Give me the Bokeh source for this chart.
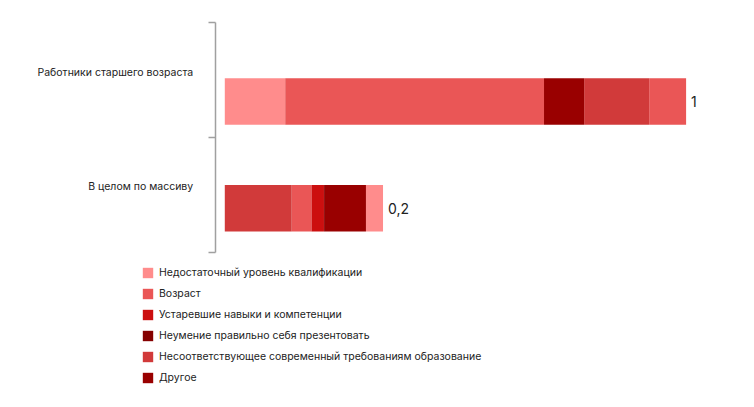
from bokeh.plotting import figure
from bokeh.models import (ColumnDataSource, Range1d, FixedTicker, Legend, LegendItem)
from bokeh.core.properties import value
from bokeh.embed import file_html
from bokeh.resources import INLINE

# ---------------- data ----------------
categories = ["Работники старшего возраста", "В целом по массиву"]
reasons = [
    "Недостаточный уровень квалификации",
    "Возраст",
    "Устаревшие навыки и компетенции",
    "Неумение правильно себя презентовать",
    "Несоответствующее современный требованиям образование",
    "Другое",
]
colors = ["#FF8C8C", "#EA5656", "#CC0F0F", "#850000", "#D13A3A", "#990000"]

# segments of each bar, left to right
older_reasons = ["Недостаточный уровень квалификации", "Возраст", "Другое",
                 "Несоответствующее современный требованиям образование", "Возраст"]
older_values = [13.1, 56.1, 8.7, 14.1, 8.0]
overall_reasons = ["Несоответствующее современный требованиям образование", "Возраст",
                   "Устаревшие навыки и компетенции",
                   "Неумение правильно себя презентовать", "Другое",
                   "Недостаточный уровень квалификации"]
overall_values = [14.5, 4.3, 2.7, 0.2, 8.9, 3.7]
total_labels = ["1", "0,2"]

# ---------------- layout constants ----------------
FONT = "Inter"
TXT = "#222222"
bar_y = [1.316, 0.388]        # bar centres (y units, band 0..2)
label_y = [1.568, 0.577]      # category label positions
bar_h = 0.405

p = figure(width=750, height=405, output_backend="svg", toolbar_location=None,
           x_range=Range1d(-48.62, 113.96), y_range=Range1d(-1.328, 2.194),
           min_border=0)
p.outline_line_color = None
p.grid.visible = False
p.xaxis.visible = False

bars = [(older_reasons, older_values), (overall_reasons, overall_values)]
renderers = {}
for r, c in zip(reasons, colors):
    lefts, rights, ys = [], [], []
    for (rs, vs), y in zip(bars, bar_y):
        acc = 0.0
        for name, v in zip(rs, vs):
            if name == r:
                lefts.append(acc)
                rights.append(acc + v)
                ys.append(y)
            acc += v
    src = ColumnDataSource(dict(y=ys, left=lefts, right=rights))
    renderers[r] = p.hbar(y="y", left="left", right="right", height=bar_h,
                          fill_color=c, line_color=None, source=src)

# totals at the end of bars
ends = [sum(older_values), sum(overall_values)]
p.text(x=ends, y=bar_y, text=total_labels, x_offset=5,
       text_baseline="middle", text_align="left",
       text_font=value(FONT), text_font_size="14px", text_color=TXT)

# y axis drawn at a fixed x just left of the bars
yax = p.yaxis[0]
yax.fixed_location = -2.08
yax.bounds = (0, 2)
yax.ticker = FixedTicker(ticks=label_y, minor_ticks=[0, 1, 2])
yax.major_label_overrides = {label_y[0]: categories[0], label_y[1]: categories[1]}
yax.major_tick_out = 0
yax.major_tick_in = 0
yax.minor_tick_out = 7
yax.minor_tick_in = 0
yax.minor_tick_line_color = "#A0A0A0"
yax.minor_tick_line_width = 1.5
yax.axis_line_color = "#A0A0A0"
yax.axis_line_width = 1.5
yax.major_label_standoff = 15
yax.major_label_text_font = FONT
yax.major_label_text_font_size = "10.5px"
yax.major_label_text_color = TXT

legend = Legend(
    items=[LegendItem(label=r, renderers=[renderers[r]]) for r in reasons],
    location=(141, 21),
    glyph_width=13, glyph_height=13, label_height=13, spacing=8,
    label_standoff=5, padding=0, margin=0,
    border_line_alpha=0, background_fill_alpha=0,
    label_text_font=FONT, label_text_font_size="10.5px", label_text_color=TXT,
)
p.add_layout(legend, "center")

open("out.html", "w").write(file_html(p, INLINE))
